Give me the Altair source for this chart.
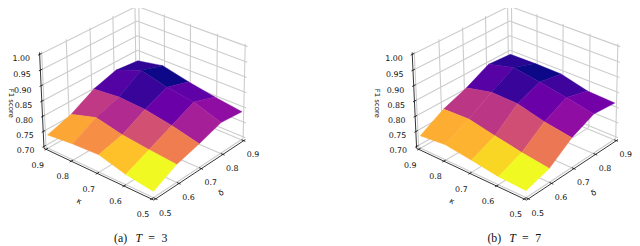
import numpy as np
import pandas as pd
import altair as alt

# axis values
kappa = [0.5, 0.6, 0.7, 0.8, 0.9]
delta = [0.5, 0.6, 0.7, 0.8, 0.9]
z_ticks = [0.70, 0.75, 0.80, 0.85, 0.90, 0.95, 1.00]

# F1 score, rows = kappa 0.5..0.9, columns = delta 0.5..0.9
f1_t3 = [
    [0.714, 0.752, 0.772, 0.796, 0.788],
    [0.727, 0.760, 0.793, 0.827, 0.801],
    [0.751, 0.770, 0.809, 0.840, 0.817],
    [0.747, 0.789, 0.814, 0.862, 0.837],
    [0.738, 0.763, 0.805, 0.828, 0.820],
]
f1_t7 = [
    [0.716, 0.739, 0.792, 0.824, 0.817],
    [0.720, 0.751, 0.806, 0.842, 0.821],
    [0.733, 0.767, 0.828, 0.857, 0.843],
    [0.744, 0.784, 0.830, 0.871, 0.844],
    [0.735, 0.780, 0.809, 0.848, 0.842],
]
# colour level of each surface facet (position on the colour ramp)
level_t3 = [
    [1.00, 0.68, 0.36, 0.30],
    [0.87, 0.53, 0.20, 0.17],
    [0.73, 0.40, 0.08, 0.00],
    [0.80, 0.45, 0.14, 0.06],
]
level_t7 = [
    [1.00, 0.66, 0.30, 0.22],
    [0.92, 0.52, 0.20, 0.09],
    [0.83, 0.44, 0.08, 0.00],
    [0.82, 0.44, 0.15, 0.05],
]

# camera calibration: box corners (delta, kappa, z as 0/1) -> where they land on the page
M = 0.4 / 48
MZ = 0.3 / 48
DMIN, DMAX = 0.5 - M, 0.9 + M
ZMIN, ZMAX = 0.7 - MZ, 1.0 + MZ
corners = [(0, 0, 0), (0, 1, 0), (1, 0, 0), (0, 1, 1), (1, 0, 1), (1, 1, 1)]
corner_px = [(156, 201), (44.3, 148.3), (248.3, 140), (39.8, 51.8), (250.5, 43.3), (138.7, 2.7)]
PANEL_SHIFT = [0.0, 377.4]


def fit_camera():
    rows = []
    for (a, b, c), (u, v) in zip(corners, corner_px):
        rows.append([a, b, c, 1, 0, 0, 0, 0, -u * a, -u * b, -u * c, -u])
        rows.append([0, 0, 0, 0, a, b, c, 1, -v * a, -v * b, -v * c, -v])
    _, _, vt = np.linalg.svd(np.array(rows, dtype=float))
    return vt[-1].reshape(3, 4)


CAM = fit_camera()


def project(d, k, z, shift=0.0):
    a = (d - DMIN) / (DMAX - DMIN)
    b = (k - DMIN) / (DMAX - DMIN)
    c = (z - ZMIN) / (ZMAX - ZMIN)
    p = CAM @ np.array([a, b, c, 1.0])
    return p[0] / p[2] + shift, p[1] / p[2]


polys, rules, labels = [], [], []
axis_rules = []


def add_poly(name, pts, shift, fill=None, t=None):
    for i, (d, k, z) in enumerate(pts + pts[:1]):
        x, y = project(d, k, z, shift)
        polys.append(dict(cell=name, ord=i, x=x, y=y, fill=fill, t=t))


def add_rule(store, a, b, shift):
    x, y = project(*a, shift)
    x2, y2 = project(*b, shift)
    store.append(dict(x=x, y=y, x2=x2, y2=y2))


pane_polys, surf_polys = [], []
panels = [("a", f1_t3, level_t3), ("b", f1_t7, level_t7)]
for pi, (tag, z_grid, level) in enumerate(panels):
    s = PANEL_SHIFT[pi]
    polys = []
    add_poly(tag + "floor", [(DMIN, DMIN, ZMIN), (DMAX, DMIN, ZMIN), (DMAX, DMAX, ZMIN), (DMIN, DMAX, ZMIN)], s, fill="#f6f6f6")
    add_poly(tag + "wallk", [(DMIN, DMAX, ZMIN), (DMAX, DMAX, ZMIN), (DMAX, DMAX, ZMAX), (DMIN, DMAX, ZMAX)], s, fill="#f2f2f2")
    add_poly(tag + "walld", [(DMAX, DMIN, ZMIN), (DMAX, DMAX, ZMIN), (DMAX, DMAX, ZMAX), (DMAX, DMIN, ZMAX)], s, fill="#fafafa")
    pane_polys += polys
    for d in delta:
        add_rule(rules, (d, DMIN, ZMIN), (d, DMAX, ZMIN), s)
        add_rule(rules, (d, DMAX, ZMIN), (d, DMAX, ZMAX), s)
    for k in kappa:
        add_rule(rules, (DMIN, k, ZMIN), (DMAX, k, ZMIN), s)
        add_rule(rules, (DMAX, k, ZMIN), (DMAX, k, ZMAX), s)
    for z in z_ticks:
        add_rule(rules, (DMIN, DMAX, z), (DMAX, DMAX, z), s)
        add_rule(rules, (DMAX, DMIN, z), (DMAX, DMAX, z), s)
    add_rule(axis_rules, (DMIN, DMIN, ZMIN), (DMIN, DMAX, ZMIN), s)
    add_rule(axis_rules, (DMIN, DMIN, ZMIN), (DMAX, DMIN, ZMIN), s)
    add_rule(axis_rules, (DMIN, DMAX, ZMIN), (DMIN, DMAX, ZMAX), s)
    for k in kappa:
        add_rule(axis_rules, (DMIN - 0.006, k, ZMIN), (DMIN + 0.008, k, ZMIN), s)
        x, y = project(DMIN, k, ZMIN, s)
        labels.append(dict(x=x - 8.5, y=y + 16.5, text=f"{k:.1f}"))
    for d in delta:
        add_rule(axis_rules, (d, DMIN - 0.006, ZMIN), (d, DMIN + 0.008, ZMIN), s)
        x, y = project(d, DMIN, ZMIN, s)
        labels.append(dict(x=x + 9.5, y=y + 15, text=f"{d:.1f}"))
    for z in z_ticks:
        add_rule(axis_rules, (DMIN - 0.006, DMAX, z), (DMIN + 0.008, DMAX, z), s)
        x, y = project(DMIN, DMAX, z, s)
        labels.append(dict(x=x - 18.5, y=y + 5, text=f"{z:.2f}"))
    polys = []
    cells = sorted(((i, j) for i in range(4) for j in range(4)), key=lambda c: -(c[0] + c[1]))
    for i, j in cells:
        pts = [
            (delta[j], kappa[i], z_grid[i][j]),
            (delta[j + 1], kappa[i], z_grid[i][j + 1]),
            (delta[j + 1], kappa[i + 1], z_grid[i + 1][j + 1]),
            (delta[j], kappa[i + 1], z_grid[i + 1][j]),
        ]
        add_poly(f"{tag}{i}{j}", pts, s, t=level[i][j])
    surf_polys += polys

X = alt.X("x:Q", axis=None, scale=alt.Scale(domain=[8, 640], zero=False, nice=False))
Y = alt.Y("y:Q", axis=None, scale=alt.Scale(domain=[246, 8], zero=False, nice=False, clamp=False))

panes = alt.Chart(pd.DataFrame(pane_polys)).mark_line(strokeWidth=0, clip=False).encode(
    x=X, y=Y, order="ord:Q", detail="cell:N", fill=alt.Fill("fill:N", scale=None)
)
grid = alt.Chart(pd.DataFrame(rules)).mark_rule(color="#cccccc", strokeWidth=1.1).encode(x=X, y=Y, x2="x2:Q", y2="y2:Q")
axes = alt.Chart(pd.DataFrame(axis_rules)).mark_rule(color="#1a1a1a", strokeWidth=0.9).encode(x=X, y=Y, x2="x2:Q", y2="y2:Q")
ramp = alt.Scale(scheme="plasma", domain=[0, 1])
surface = alt.Chart(pd.DataFrame(surf_polys)).mark_line(strokeWidth=0.4).encode(
    x=X, y=Y, order="ord:Q", detail="cell:N",
    fill=alt.Fill("t:Q", scale=ramp, legend=None),
    stroke=alt.Stroke("t:Q", scale=ramp, legend=None),
)
ticks = alt.Chart(pd.DataFrame(labels)).mark_text(font="DejaVu Sans", fontSize=8, color="#111111").encode(x=X, y=Y, text="text:N")


def one_text(rows, **kw):
    return alt.Chart(pd.DataFrame(rows)).mark_text(**kw).encode(x=X, y=Y, text="text:N")


s1 = PANEL_SHIFT[1]
CAP = 378.5
layers = [panes, grid, axes, surface, ticks]
layers.append(one_text([dict(x=80, y=202.7, text="κ"), dict(x=80 + s1, y=202.7, text="κ")],
                       font="DejaVu Sans", fontSize=8, angle=30, color="#111111"))
layers.append(one_text([dict(x=224, y=194.3, text="δ"), dict(x=224 + s1, y=194.3, text="δ")],
                       font="DejaVu Sans", fontSize=8, angle=330, color="#111111"))
layers.append(one_text([dict(x=11, y=103, text="F1 score"), dict(x=381.7, y=103, text="F1 score")],
                       font="DejaVu Sans", fontSize=7, angle=90, color="#111111"))
cap = dict(font="Liberation Serif", fontSize=12, color="#111111")
layers.append(one_text([dict(x=122, y=239, text="(a)"), dict(x=122 + CAP, y=239, text="(b)"),
                        dict(x=153.5, y=239, text="="), dict(x=153.5 + CAP, y=239, text="="),
                        dict(x=166.5, y=239, text="3"), dict(x=166.5 + CAP, y=239, text="7")], **cap))
layers.append(one_text([dict(x=140.5, y=239, text="T"), dict(x=140.5 + CAP, y=239, text="T")], fontStyle="italic", **cap))

chart = alt.layer(*layers).properties(
    width=632, height=238, padding=0, autosize=alt.AutoSizeParams(type="none"), background="white"
).configure_view(stroke=None)

chart.save("out.html", embed_options={"renderer": "svg", "actions": False})
